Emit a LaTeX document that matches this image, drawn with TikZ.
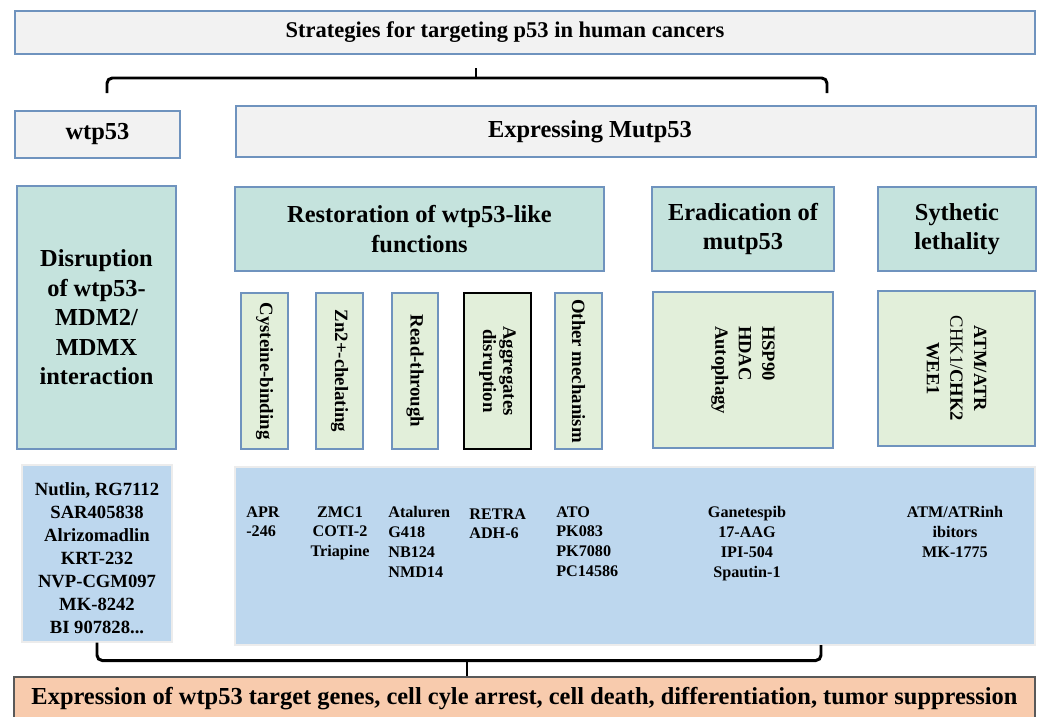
\documentclass[tikz,border=0pt]{standalone}
\usepackage{fontspec}
\setmainfont{Liberation Serif}
\usepackage{tikz}
\usetikzlibrary{calc}

\definecolor{graybox}{HTML}{F2F2F2}
\definecolor{tealbox}{HTML}{C5E3DD}
\definecolor{greenbox}{HTML}{E2EFDA}
\definecolor{bluebox}{HTML}{BDD7EE}
\definecolor{pinkbox}{HTML}{F8CBAD}
\definecolor{edgeblue}{HTML}{6F93BE}

\newcommand{\titlefont}{\fontsize{12.8}{15}\selectfont\bfseries}
\newcommand{\headfont}{\fontsize{13.9}{16.8}\selectfont\bfseries}
\newcommand{\mechfont}{\fontsize{10.7}{11.6}\selectfont\bfseries}
\newcommand{\targetfont}{\fontsize{10.6}{13.4}\selectfont\bfseries}
\newcommand{\leftdrugfont}{\fontsize{10.6}{13.1}\selectfont\bfseries}
\newcommand{\drugfont}{\fontsize{9.2}{11.3}\selectfont\bfseries}

\begin{document}
\begin{tikzpicture}[
		box/.style={draw=edgeblue, line width=0.8pt, inner sep=2pt, align=center},
		head/.style={box, fill=graybox, font=\headfont},
		strat/.style={box, fill=tealbox, font=\headfont},
		mech/.style={box, fill=greenbox, rotate=-90, font=\mechfont,
			minimum width=3.12cm, minimum height=0.94cm},
		druglist/.style={fill=bluebox, draw=gray!15, line width=0.6pt},
		drug/.style={font=\drugfont, inner sep=0pt},
		brace/.style={line width=1.7pt, rounded corners=3pt}
	]
		\useasboundingbox (0,0) rectangle (20.8,-14.34);
		
		% top row
		\node[head, minimum width=20.4cm, minimum height=0.86cm] (title) at (10.5,-0.65) {};
		\node[font=\titlefont] (titletext) at ($(title.center)+(-0.4,0)$)
		{Strategies for targeting p53 in human cancers};
		\node[head, minimum width=3.3cm, minimum height=0.94cm] (wt) at (1.95,-2.69) {wtp53};
		\node[head, minimum width=16cm, minimum height=1.02cm] (mut) at (12.72,-2.63) {};
		\node[font=\headfont] (muttext) at ($(mut.center)+(-0.92,0)$) {Expressing Mutp53};
		
		% brace between title and the two groups
		\coordinate (bL) at (2.14,-1.86);
		\coordinate (bR) at (16.54,-1.86);
		\coordinate (bM) at (9.52,-1.36);
		\draw[brace] (bL) -- ++(0,0.3) -| (bR);
		\draw[line width=1.7pt] (bM) -- ++(0,-0.2);
		
		% strategies
		\node[strat, minimum width=3.18cm, minimum height=5.26cm] (disr) at (1.93,-6.35)
		{Disruption\\ of wtp53-\\ MDM2/\\ MDMX\\ interaction};
		\node[strat, minimum width=7.38cm, minimum height=1.68cm] (rest) at (8.39,-4.58)
		{Restoration of wtp53-like\\ functions};
		\node[strat, minimum width=3.64cm, minimum height=1.68cm] (erad) at (14.86,-4.58)
		{Eradication of\\ mutp53};
		\node[strat, minimum width=3.16cm, minimum height=1.68cm] (synl) at (19.14,-4.58)
		{Sythetic\\ lethality};
		
		% mechanisms (rotated)
		\node[mech] (cys) at (5.29,-7.42) {Cysteine-binding};
		\node[mech] (zinc) at (6.79,-7.42) {Zn2+-chelating};
		\node[mech, minimum height=0.92cm] (readthr) at (8.30,-7.42) {Read-through};
		\node[mech, draw=black, minimum height=1.34cm] (aggr) at (9.95,-7.42) {Aggregates\\ disruption};
		\node[mech] (other) at (11.57,-7.42) {Other mechanism};
		\node[mech, font=\targetfont, align=left, minimum width=3.12cm, minimum height=3.6cm] (hsp) at (14.86,-7.40)
		{HSP90\\ HDAC\\ Autophagy};
		\node[mech, font=\targetfont, minimum width=3.10cm, minimum height=3.14cm] (atm) at (19.13,-7.37)
		{ATM/ATR\\ {\mdseries CHK1/}CHK2\\ WEE1};
		
		% compounds
		\node[druglist, minimum width=3cm, minimum height=3.54cm] (drugL) at (1.94,-11.07) {};
		\node[font=\leftdrugfont, align=center, inner sep=0pt] (leftdrugs) at (1.94,-11.17)
		{Nutlin, RG7112\\ SAR405838\\ Alrizomadlin\\ KRT-232\\ NVP-CGM097\\ MK-8242\\ BI 907828...};
		\node[druglist, minimum width=16cm, minimum height=3.56cm] (drugR) at (12.7,-11.12) {};
		\node[drug, anchor=north west, align=left] (apr) at (4.92,-10.12) {APR\\ -246};
		\node[drug, anchor=north, align=center] (zmc) at (6.80,-10.12) {ZMC1\\ COTI-2\\ Triapine};
		\node[drug, anchor=north west, align=left] (atal) at (7.76,-10.12) {Ataluren\\ G418\\ NB124\\ NMD14};
		\node[drug, anchor=north west, align=left] (retra) at (9.38,-10.16) {RETRA\\ ADH-6};
		\node[drug, anchor=north west, align=left] (ato) at (11.12,-10.12) {ATO\\ PK083\\ PK7080\\ PC14586};
		\node[drug, anchor=north, align=center] (gan) at (14.94,-10.12) {Ganetespib\\ 17-AAG\\ IPI-504\\ Spautin-1};
		\node[drug, anchor=north, align=center] (atmi) at (19.10,-10.12) {ATM/ATRinh\\ ibitors\\ MK-1775};
		
		% outcome
		\node[box, draw=black!65, fill=pinkbox, font=\headfont, minimum width=20.42cm, minimum height=0.88cm] (outcome) at (10.49,-13.98)
		{Expression of wtp53 target genes, cell cyle arrest, cell death, differentiation, tumor suppression};
		
		% brace from compounds to outcome
		\coordinate (cR) at (16.42,-12.9);
		\coordinate (cM) at (9.34,-13.2);
		\draw[brace] (drugL.south) -- ++(0,-0.36) -| (cR);
		\draw[line width=1.7pt] (cM) -- (cM |- outcome.north);
		
	\end{tikzpicture}
\end{document}
